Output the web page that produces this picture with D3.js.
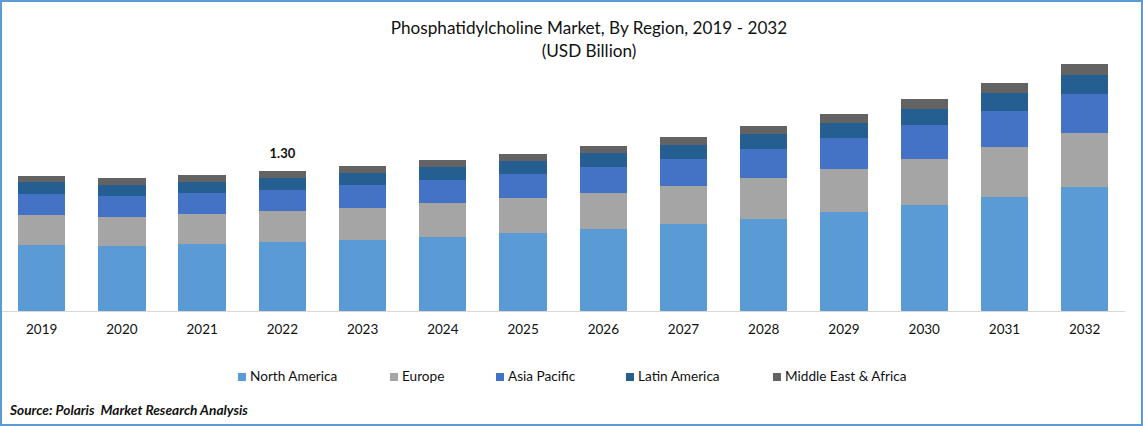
<!DOCTYPE html>
<html>
<head>
<meta charset="utf-8">
<script src="https://cdn.jsdelivr.net/npm/d3@7"></script>
<style>
  html, body { margin: 0; padding: 0; background: #fff; }
  svg { display: block; }
  text { font-family: Lato, "Open Sans", sans-serif; fill: #111; }
</style>
</head>
<body>
<svg id="chart" width="1143" height="426"></svg>
<script>
var years = ["2019","2020","2021","2022","2023","2024","2025","2026","2027","2028","2029","2030","2031","2032"];
var regions = ["North America","Europe","Asia Pacific","Latin America","Middle East & Africa"];
var northAmerica = [0.613,0.604,0.622,0.641,0.659,0.687,0.724,0.761,0.808,0.854,0.919,0.984,1.058,1.151];
var europe = [0.279,0.269,0.279,0.288,0.297,0.316,0.325,0.334,0.353,0.381,0.399,0.427,0.464,0.501];
var asiaPacific = [0.195,0.195,0.195,0.195,0.214,0.214,0.223,0.241,0.251,0.269,0.288,0.316,0.334,0.362];
var latinAmerica = [0.111,0.102,0.102,0.111,0.111,0.121,0.121,0.130,0.130,0.139,0.139,0.149,0.167,0.176];
var middleEast = [0.056,0.065,0.065,0.065,0.065,0.065,0.065,0.065,0.074,0.074,0.084,0.093,0.093,0.102];
var colors = ["#5B9BD5","#A5A5A5","#4472C4","#255E91","#636363"];
var legendX = [238,390,496,626,773];
var labelYear = "2022";
var labelText = "1.30";

var svg = d3.select("#chart");
var width = 1143, height = 426;

// frame
svg.append("rect")
  .attr("x", 1).attr("y", 1)
  .attr("width", width - 2).attr("height", height - 2)
  .attr("fill", "#fff")
  .attr("stroke", "#5B9BD5")
  .attr("stroke-width", 2);

svg.append("text")
  .attr("x", 589).attr("y", 34)
  .style("text-anchor", "middle")
  .style("font-size", "17.15px")
  .text("Phosphatidylcholine Market, By Region, 2019 - 2032");
svg.append("text")
  .attr("x", 589).attr("y", 57)
  .style("text-anchor", "middle")
  .style("font-size", "17.15px")
  .text("(USD Billion)");

var x = d3.scaleBand()
  .domain(years)
  .range([1.55, 1124.8])
  .paddingInner(0.41)
  .paddingOuter(0.205);

// 1.30 in 2022 sits 140px above the baseline
var y = d3.scaleLinear()
  .domain([0, 1.30])
  .range([311, 171]);

var table = years.map(function (yr, i) {
  return {
    year: yr,
    "North America": northAmerica[i],
    "Europe": europe[i],
    "Asia Pacific": asiaPacific[i],
    "Latin America": latinAmerica[i],
    "Middle East & Africa": middleEast[i]
  };
});
var stacked = d3.stack().keys(regions)(table);

svg.selectAll("g.series")
  .data(stacked)
  .enter()
  .append("g")
  .attr("class", "series")
  .attr("fill", function (d, i) { return colors[i]; })
  .selectAll("rect")
  .data(function (d) { return d; })
  .enter()
  .append("rect")
  .attr("x", function (d) { return x(d.data.year); })
  .attr("width", x.bandwidth())
  .attr("y", function (d) { return y(d[1]); })
  .attr("height", function (d) { return y(d[0]) - y(d[1]); })
  .attr("shape-rendering", "crispEdges");

var axis = svg.append("g")
  .attr("transform", "translate(0,311)")
  .call(d3.axisBottom(x).tickSize(0).tickPadding(13));
axis.select(".domain").attr("stroke", "#D9D9D9").attr("stroke-width", 1.2);
axis.selectAll("text")
  .style("font-family", "Lato, 'Open Sans', sans-serif")
  .style("font-size", "13.5px")
  .style("fill", "#111");

// the only data label in the chart
var labelIndex = years.indexOf(labelYear);
var totalAtLabel = d3.sum(stacked, function (s) { return s[labelIndex][1] - s[labelIndex][0]; });
svg.append("text")
  .attr("x", x(labelYear) + x.bandwidth() / 2)
  .attr("y", y(totalAtLabel) - 13)
  .style("text-anchor", "middle")
  .style("font-size", "13px")
  .style("font-weight", "bold")
  .text(labelText);

var legend = svg.selectAll("g.legend")
  .data(regions)
  .enter()
  .append("g")
  .attr("class", "legend")
  .attr("transform", function (d, i) { return "translate(" + legendX[i] + ",373)"; });
legend.append("rect")
  .attr("width", 8).attr("height", 8)
  .attr("fill", function (d, i) { return colors[i]; });
legend.append("text")
  .attr("x", 12).attr("y", 8)
  .style("font-size", "13.6px")
  .text(function (d) { return d; });

svg.append("text")
  .attr("x", 10).attr("y", 415)
  .style("font-size", "13.7px")
  .style("font-weight", "bold")
  .style("font-style", "italic")
  .attr("xml:space", "preserve")
  .text("Source: Polaris  Market Research Analysis");
</script>
</body>
</html>
